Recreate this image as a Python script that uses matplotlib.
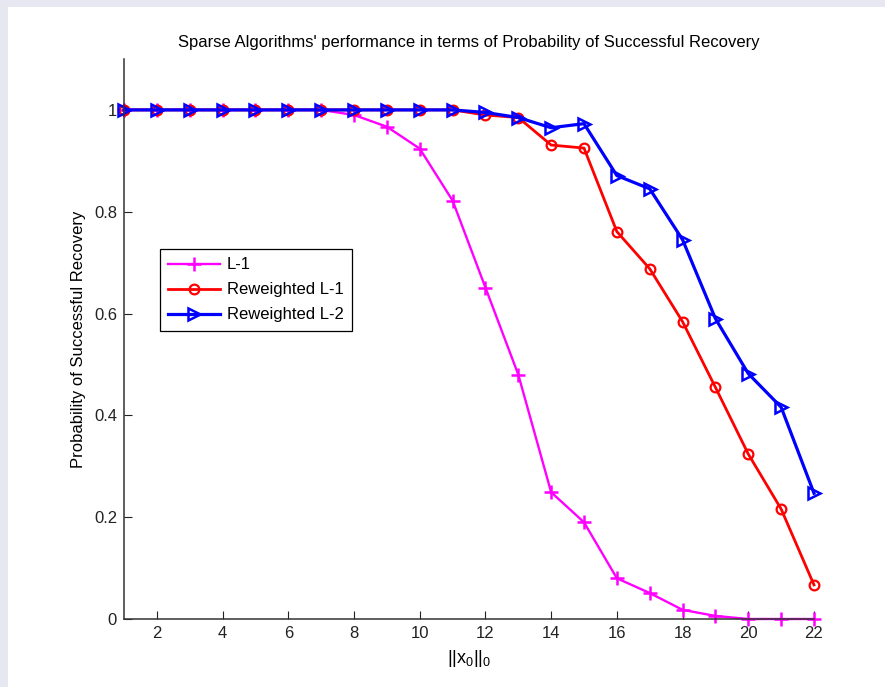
import matplotlib
matplotlib.use("Agg")
from matplotlib import pyplot as plt
from matplotlib.patches import Rectangle

"data"
k = list(range(1, 23))
l1 = [1, 1, 1, 1, 1, 1, 1, 0.99, 0.967, 0.924, 0.822, 0.651, 0.48, 0.249,
      0.19, 0.08, 0.051, 0.018, 0.006, 0.0, 0.0, 0.0]
rw_l1 = [1, 1, 1, 1, 1, 1, 1, 1, 1, 1, 1, 0.99, 0.985, 0.931, 0.925, 0.761,
         0.688, 0.584, 0.455, 0.324, 0.216, 0.067]
rw_l2 = [1, 1, 1, 1, 1, 1, 1, 1, 1, 1, 1, 0.995, 0.985, 0.965, 0.973, 0.871,
         0.845, 0.745, 0.59, 0.482, 0.416, 0.247]
xticks = [2, 4, 6, 8, 10, 12, 14, 16, 18, 20, 22]
yticks = [0, 0.2, 0.4, 0.6, 0.8, 1]

"format"
matplotlib.rcParams.update({'font.family': 'Liberation Sans',
                            'mathtext.default': 'regular',
                            'xtick.direction': 'in', 'ytick.direction': 'in',
                            'font.size': 12})

"Figure"
fig = plt.figure(figsize=(8.85, 6.87), dpi=100, facecolor='#e7e7f1')
fig.add_artist(Rectangle((8 / 885, 0), 1, 1 - 7 / 687, transform=fig.transFigure,
                         facecolor='white', edgecolor='none', zorder=-10))
ax = fig.add_axes([124 / 885, 1 - 619 / 687, 690 / 885, 560 / 687])
ax.set_zorder(1)
ax.set_facecolor('white')

ax.plot(k, l1, color='magenta', marker='+', markersize=10, markeredgewidth=1.8,
        linewidth=1.7, label='L-1', clip_on=False)
ax.plot(k, rw_l1, color='red', marker='o', markersize=7, markerfacecolor='none',
        markeredgewidth=1.6, linewidth=2, label='Reweighted L-1', clip_on=False)
ax.plot(k, rw_l2, color='blue', marker='>', markersize=9, markerfacecolor='none',
        markeredgewidth=1.8, linewidth=2.3, label='Reweighted L-2', clip_on=False)

ax.set_xlim(1, 22)
ax.set_ylim(0, 1.1)
ax.set_xticks(xticks)
ax.set_yticks(yticks)
ax.set_yticklabels(['0', '0.2', '0.4', '0.6', '0.8', '1'])
ax.tick_params(labelsize=12, length=6, width=0.8, colors='#222222', pad=5)
for s in ['top', 'right']:
    ax.spines[s].set_visible(False)
for s in ['left', 'bottom']:
    ax.spines[s].set_color('#333333')
    ax.spines[s].set_linewidth(1.1)

ax.set_title("Sparse Algorithms' performance in terms of Probability of Successful Recovery",
             fontsize=12, pad=9)
ax.set_ylabel('Probability of Successful Recovery', fontsize=12, labelpad=6)
ax.set_xlabel(r'$||x_0||_0$', fontsize=13, labelpad=5)

leg = ax.legend(loc='upper left', bbox_to_anchor=(160 / 885, 1 - 249 / 687),
                bbox_transform=fig.transFigure, fancybox=False, framealpha=1,
                edgecolor='black', fontsize=12, handlelength=3.1,
                borderaxespad=0, labelspacing=0.6, borderpad=0.5,
                handletextpad=0.4)
leg.get_frame().set_linewidth(0.9)

plt.savefig('out.png', dpi=100, facecolor=fig.get_facecolor())
